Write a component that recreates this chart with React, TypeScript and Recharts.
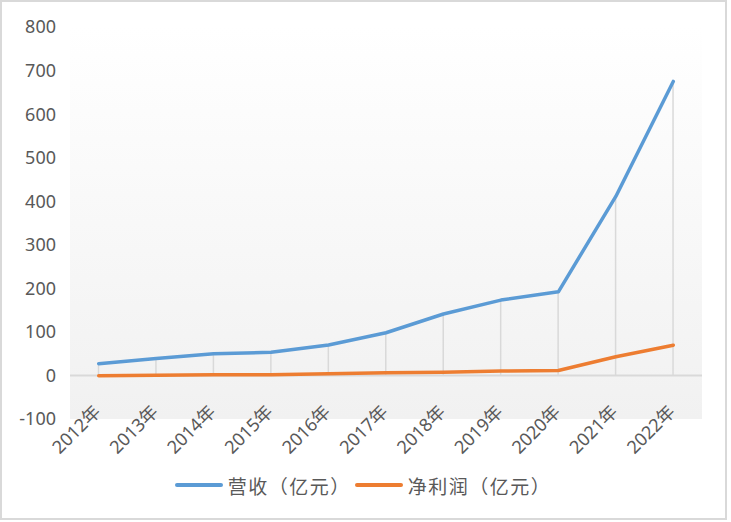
import React from 'react';
import { ComposedChart, Line, Bar, XAxis, YAxis, CartesianGrid, ReferenceLine, Legend } from 'recharts';

const years = ['2012年', '2013年', '2014年', '2015年', '2016年', '2017年', '2018年', '2019年', '2020年', '2021年', '2022年'];
const revenue = [27, 39, 50, 53, 70, 98, 141, 173, 192, 411, 675];
const profit = [-0.5, 0.5, 1.5, 1.6, 4, 6, 7.6, 10, 11.5, 43, 69.5];
const yTicks = [-100, 0, 100, 200, 300, 400, 500, 600, 700, 800];

const REV_NAME = '营收（亿元）';
const PROFIT_NAME = '净利润（亿元）';

const chartData = years.map((year, i) => ({
  year,
  revenue: revenue[i],
  drop: revenue[i],
  profit: profit[i],
}));

const FONT = '"Noto Sans", "Noto Sans CJK SC", sans-serif';
const CJK_FONT = '"Noto Sans CJK SC", "Noto Sans", sans-serif';
const TEXT = '#595959';

// vertical drop line from the revenue point down to the zero line
const DropLine = (props: any) => {
  const { x, y, width, height } = props;
  const cx = x + width / 2;
  return <line x1={cx} x2={cx} y1={y} y2={y + height} stroke="#d9d9d9" strokeWidth={1.5} />;
};

const YearTick = (props: any) => {
  const { x, y, payload } = props;
  const ax = x + 3;
  const ay = y - 6;
  return (
    <text
      x={ax}
      y={ay}
      transform={`rotate(-45, ${ax}, ${ay})`}
      textAnchor="end"
      fill={TEXT}
      style={{ fontSize: '18px', fontFamily: FONT }}
    >
      {payload.value}
    </text>
  );
};

const LegendContent = () => (
  <div style={{ height: 26, paddingLeft: 24, boxSizing: 'border-box', display: 'flex', justifyContent: 'center', alignItems: 'center', fontFamily: CJK_FONT, fontSize: 19, letterSpacing: 1.5, color: TEXT }}>
    {[
      { name: REV_NAME, color: '#5b9bd5' },
      { name: PROFIT_NAME, color: '#ed7d31' },
    ].map((item, i) => (
      <div key={item.name} style={{ display: 'flex', alignItems: 'center', marginRight: i === 0 ? 4 : 0 }}>
        <span style={{ display: 'inline-block', width: 48, height: 3.5, borderRadius: 2, background: item.color, marginRight: 5 }} />
        <span>{item.name}</span>
      </div>
    ))}
  </div>
);

export default function App() {
  return (
    <div style={{ position: 'absolute', left: 0, top: 0, width: 731, height: 522, background: '#fff' }}>
      <div style={{ position: 'absolute', left: 0, top: 0, width: 727, height: 520, border: '2px solid #d9d9d9', boxSizing: 'border-box' }} />
      <ComposedChart
        width={731}
        height={522}
        data={chartData}
        margin={{ top: 27, right: 29, left: 0, bottom: 24 }}
        barCategoryGap={0}
      >
        <defs>
          <linearGradient id="plotBg" x1="0" y1="0" x2="0" y2="1">
            <stop offset="0%" stopColor="#ffffff" />
            <stop offset="100%" stopColor="#f1f1f1" />
          </linearGradient>
        </defs>
        <CartesianGrid horizontal={false} vertical={false} fill="url(#plotBg)" fillOpacity={1} />
        <XAxis
          dataKey="year"
          axisLine={false}
          tickLine={false}
          tickSize={0}
          tickMargin={0}
          height={53}
          interval={0}
          tick={<YearTick />}
        />
        <YAxis
          domain={[-100, 800]}
          ticks={yTicks}
          axisLine={false}
          tickLine={false}
          tickSize={0}
          tickMargin={14}
          width={70}
          tick={{ fill: TEXT, fontSize: 18, fontFamily: FONT }}
        />
        <ReferenceLine y={0} stroke="#d9d9d9" strokeWidth={2} />
        <Bar dataKey="drop" shape={<DropLine />} isAnimationActive={false} legendType="none" />
        <Line
          type="linear"
          dataKey="revenue"
          name={REV_NAME}
          stroke="#5b9bd5"
          strokeWidth={3.5}
          strokeLinecap="round"
          strokeLinejoin="round"
          dot={false}
          activeDot={false}
          isAnimationActive={false}
        />
        <Line
          type="linear"
          dataKey="profit"
          name={PROFIT_NAME}
          stroke="#ed7d31"
          strokeWidth={3.5}
          strokeLinecap="round"
          strokeLinejoin="round"
          dot={false}
          activeDot={false}
          isAnimationActive={false}
        />
        <Legend verticalAlign="bottom" height={26} content={<LegendContent />} />
      </ComposedChart>
    </div>
  );
}
